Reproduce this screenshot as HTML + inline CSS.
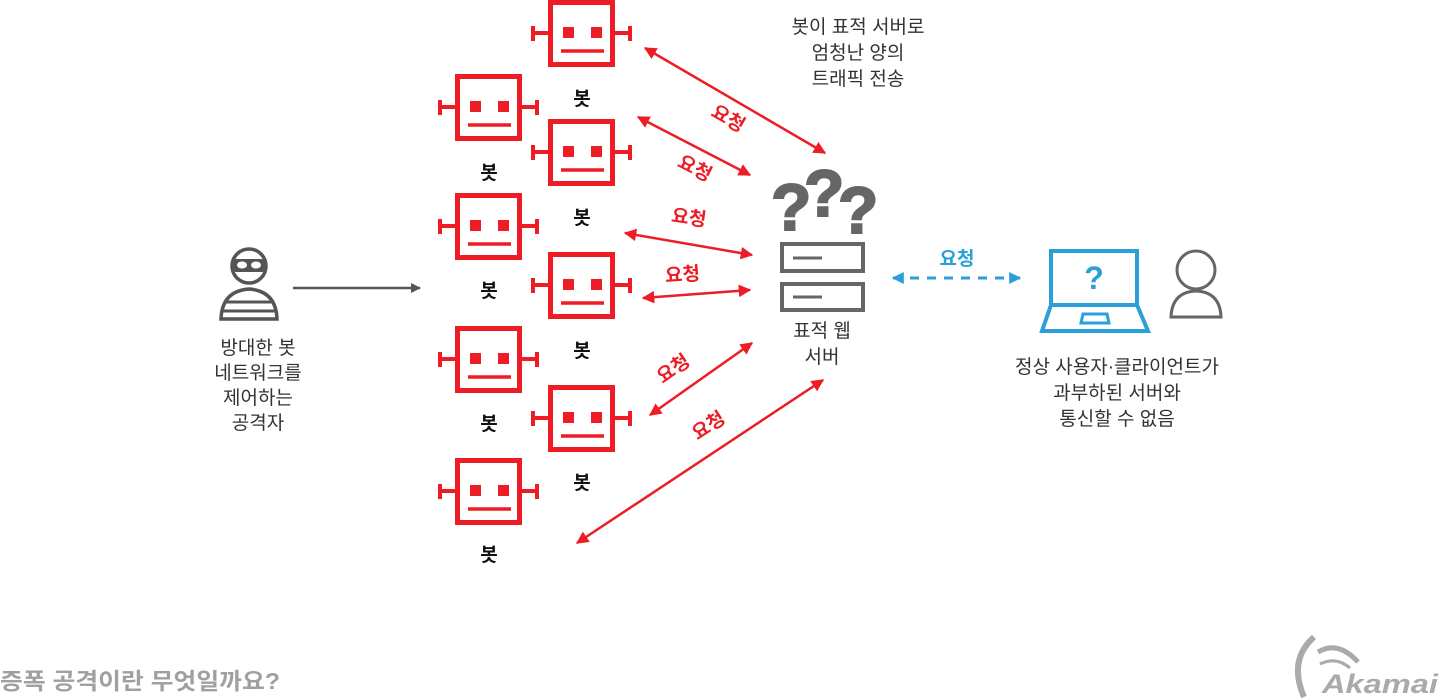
<!DOCTYPE html>
<html><head><meta charset="utf-8"><style>
body{margin:0;background:#fff;width:1440px;height:698px;overflow:hidden}
svg{display:block}
text{font-family:"Liberation Sans","Noto Sans CJK KR",sans-serif}
</style></head><body>
<svg width="1440" height="698" viewBox="0 0 1440 698">
<defs>
<g id="bot" fill="none" stroke="#ee1c24">
<rect x="2.5" y="2.5" width="62" height="62" stroke-width="5"/>
<line x1="-15" y1="33" x2="0" y2="33" stroke-width="4"/>
<line x1="-15" y1="26" x2="-15" y2="41" stroke-width="4"/>
<line x1="67" y1="33" x2="82" y2="33" stroke-width="4"/>
<line x1="82" y1="26" x2="82" y2="41" stroke-width="4"/>
<rect x="15" y="27" width="11" height="11" fill="#ee1c24" stroke="none"/>
<rect x="43" y="27" width="11" height="11" fill="#ee1c24" stroke="none"/>
<line x1="13" y1="51" x2="56" y2="51" stroke-width="3.5"/>
</g>
<marker id="ar" viewBox="0 0 10 10" refX="9" refY="5" markerWidth="5" markerHeight="5" orient="auto-start-reverse"><path d="M0,0L10,5L0,10z" fill="#ee1c24"/></marker>
<marker id="ab" viewBox="0 0 10 10" refX="9" refY="5" markerWidth="4" markerHeight="4" orient="auto-start-reverse"><path d="M0,0L10,5L0,10z" fill="#2a9fd8"/></marker>
<marker id="ag" viewBox="0 0 10 10" refX="9" refY="5" markerWidth="4" markerHeight="4" orient="auto"><path d="M0,0L10,5L0,10z" fill="#555"/></marker>
</defs>

<use href="#bot" x="548" y="0"/>
<use href="#bot" x="548" y="119"/>
<use href="#bot" x="548" y="252"/>
<use href="#bot" x="548" y="385"/>
<use href="#bot" x="455" y="74"/>
<use href="#bot" x="455" y="193"/>
<use href="#bot" x="455" y="326"/>
<use href="#bot" x="455" y="458"/>

<g font-size="19" font-weight="bold" text-anchor="middle" fill="#111">
<text x="582" y="105">봇</text><text x="582" y="224">봇</text><text x="582" y="357">봇</text><text x="582" y="489">봇</text>
<text x="489" y="179">봇</text><text x="489" y="297">봇</text><text x="489" y="430">봇</text><text x="489" y="561">봇</text>
</g>

<g stroke="#ee1c24" stroke-width="2.5" marker-start="url(#ar)" marker-end="url(#ar)">
<line x1="645" y1="48" x2="825" y2="153"/>
<line x1="638" y1="117" x2="750" y2="175"/>
<line x1="625" y1="233" x2="752" y2="255"/>
<line x1="643" y1="298" x2="750" y2="290"/>
<line x1="650" y1="415" x2="752" y2="343"/>
<line x1="577" y1="543" x2="823" y2="380"/>
</g>
<g font-size="19" font-weight="bold" fill="#ee1c24" text-anchor="middle">
<text transform="translate(725,124) rotate(30)">요청</text>
<text transform="translate(692,174) rotate(27)">요청</text>
<text transform="translate(688,224) rotate(8)">요청</text>
<text transform="translate(683,281) rotate(-4)">요청</text>
<text transform="translate(677,374) rotate(-35)">요청</text>
<text transform="translate(712,431) rotate(-33)">요청</text>
</g>

<g font-size="19" fill="#333" text-anchor="middle">
<text x="858" y="33">봇이 표적 서버로</text>
<text x="858" y="59">엄청난 양의</text>
<text x="858" y="85">트래픽 전송</text>
<text x="822" y="337">표적 웹</text>
<text x="822" y="363">서버</text>
<text x="258" y="354">방대한 봇</text>
<text x="258" y="379">네트워크를</text>
<text x="258" y="404">제어하는</text>
<text x="258" y="429">공격자</text>
<text x="1117" y="373">정상 사용자·클라이언트가</text>
<text x="1117" y="399">과부하된 서버와</text>
<text x="1117" y="425">통신할 수 없음</text>
</g>

<g font-size="66" font-weight="900" fill="#666" stroke="#666" stroke-width="2" font-family="Liberation Sans,sans-serif">
<text x="771" y="230">?</text><text x="804" y="216">?</text><text x="838" y="233">?</text>
</g>
<g fill="none" stroke="#666" stroke-width="4">
<rect x="782" y="244" width="81" height="27"/>
<rect x="782" y="284" width="81" height="26"/>
</g>
<g stroke="#666" stroke-width="3"><line x1="793" y1="258" x2="822" y2="258"/><line x1="793" y1="297" x2="822" y2="297"/></g>

<g fill="none" stroke="#555" stroke-width="3.5">
<circle cx="249" cy="266" r="17"/>
<path d="M221,319 Q222,291 249,289 Q276,291 277,319 Z"/>
</g>
<rect x="232" y="259" width="34" height="13" rx="4" fill="#555"/>
<ellipse cx="242" cy="265" rx="5" ry="3.5" fill="#fff"/><ellipse cx="256" cy="265" rx="5" ry="3.5" fill="#fff"/>
<g stroke="#555" stroke-width="3"><line x1="225" y1="302" x2="273" y2="302"/><line x1="223" y1="311" x2="275" y2="311"/></g>
<line x1="293" y1="288" x2="420" y2="288" stroke="#555" stroke-width="2.5" marker-end="url(#ag)"/>

<line x1="893" y1="278" x2="1020" y2="278" stroke="#2a9fd8" stroke-width="3" stroke-dasharray="9,8" marker-start="url(#ab)" marker-end="url(#ab)"/>
<text x="957" y="265" font-size="19" font-weight="bold" fill="#2a9fd8" text-anchor="middle">요청</text>
<g fill="none" stroke="#2a9fd8" stroke-width="4">
<rect x="1051" y="251" width="86" height="54"/>
<path d="M1051,305 L1042,331 L1148,331 L1137,305"/>
<path d="M1081,323 L1083,314 L1107,314 L1109,323 Z" stroke-width="3"/>
</g>
<text x="1094" y="289" font-size="32" font-weight="900" fill="#2a9fd8" text-anchor="middle">?</text>
<g fill="none" stroke="#666" stroke-width="3">
<circle cx="1196" cy="270" r="19"/>
<path d="M1171,317 Q1172,292 1196,291 Q1220,292 1221,317 Z"/>
</g>

<text x="0" y="689" font-size="23" font-weight="bold" fill="#a0a0a0" textLength="280" lengthAdjust="spacingAndGlyphs">증폭 공격이란 무엇일까요?</text>
<path d="M1314,637 Q1288,660 1304,697" fill="none" stroke="#aaa" stroke-width="6"/>
<path d="M1318,652 Q1338,640 1358,662" fill="none" stroke="#aaa" stroke-width="5"/>
<path d="M1320,664 Q1336,656 1350,668" fill="none" stroke="#aaa" stroke-width="3"/>
<text x="1322" y="693" font-size="27" font-weight="bold" font-style="italic" fill="#aaa" textLength="116" lengthAdjust="spacingAndGlyphs">Akamai</text>
</svg>
</body></html>
